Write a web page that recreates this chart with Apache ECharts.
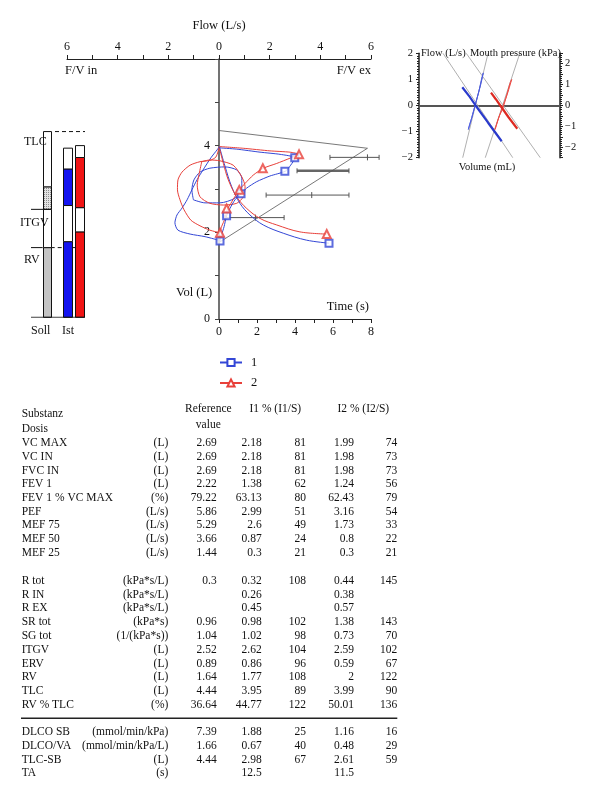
<!DOCTYPE html>
<html><head><meta charset="utf-8">
<script src="https://cdn.jsdelivr.net/npm/echarts@6/dist/echarts.min.js"></script>
<style>html,body{margin:0;padding:0;background:#fff}#c{width:600px;height:802px}</style>
</head><body><div id="c"></div>
<script>
// ================= DATA =================
// Main panel: flow (L/s) vs volume (L)
const flowTickValues = [-6, -4, -2, 0, 2, 4, 6];
const timeTickValues = [0, 2, 4, 6, 8];
const volTickValues = [0, 2, 4];

// Predicted flow-volume outline
const predFlow = [0, 5.86, 0.04];
const predVol  = [4.35, 3.94, 1.78];

// Reference ranges (PEF, MEF 75, MEF 50, MEF 25)
const refNames  = ['PEF', 'MEF 75', 'MEF 50', 'MEF 25'];
const refCenter = [5.86, null, 3.66, 1.44];
const refLow    = [4.38, 3.08, 1.86, 0.24];
const refHigh   = [6.32, 5.13, 5.13, 2.57];
const refVol    = [3.73, 3.42, 2.86, 2.34];

// Series 1 (blue)
const exp1Flow = [0.01, 0.70, 1.62, 2.41, 3.01, 2.83, 2.62, 2.01, 1.49, 1.09, 0.88, 0.63, 0.43, 0.30, 0.20, 0.10, 0.04];
const exp1Vol  = [3.95, 3.92, 3.85, 3.80, 3.72, 3.55, 3.41, 3.30, 3.17, 3.02, 2.89, 2.75, 2.55, 2.38, 2.13, 1.94, 1.80];
const mark1Flow = [2.99, 2.60, 0.87, 0.30, 0.04];
const mark1Vol  = [3.72, 3.41, 2.89, 2.38, 1.80];
const insp1Flow = [0.04, -0.55, -1.14, -1.62, -1.74, -1.66, -1.46, -1.26, -1.07, -0.87, -0.63, -0.32, -0.08, 0.01];
const insp1Vol  = [1.81, 1.90, 1.96, 2.05, 2.22, 2.40, 2.56, 2.75, 2.98, 3.21, 3.44, 3.72, 3.90, 3.97];
const tid1Flow = [-1.01, -0.55, 0.04, 0.63, 0.90, 0.90, 0.70, 0.24, -0.36, -0.75, -0.99, -1.07, -1.01];
const tid1Vol  = [2.75, 2.68, 2.68, 2.79, 3.02, 3.25, 3.44, 3.51, 3.48, 3.39, 3.21, 2.98, 2.75];
const vt1Time = [0.02, 0.32, 0.67, 1.10, 1.63, 2.33, 3.38, 4.60, 5.79];
const vt1Vol  = [3.98, 3.52, 3.05, 2.67, 2.40, 2.17, 1.98, 1.82, 1.75];

// Series 2 (red)
const exp2Flow = [0.01, 0.96, 2.01, 2.80, 3.17, 2.80, 2.28, 1.75, 1.35, 1.03, 0.80, 0.59, 0.43, 0.34, 0.24, 0.10, 0.04];
const exp2Vol  = [3.98, 3.94, 3.88, 3.85, 3.80, 3.71, 3.59, 3.48, 3.32, 3.13, 2.98, 2.79, 2.63, 2.55, 2.32, 2.13, 1.99];
const mark2Flow = [3.16, 1.73, 0.80, 0.30, 0.04];
const mark2Vol  = [3.80, 3.48, 2.98, 2.55, 1.99];
const insp2Flow = [0.04, -0.36, -0.75, -1.11, -1.38, -1.54, -1.64, -1.62, -1.46, -1.14, -0.75, -0.36, -0.12, 0.01];
const insp2Vol  = [1.99, 2.05, 2.15, 2.28, 2.52, 2.75, 2.98, 3.21, 3.39, 3.55, 3.63, 3.66, 3.74, 3.97];
const tid2Flow = [-0.68, -0.78, -0.86, -0.75, -0.36, 0.17, 0.70, 0.96, 1.03, 0.90, 0.56, 0.04, -0.36, -0.68];
const tid2Vol  = [3.63, 3.36, 3.09, 2.82, 2.67, 2.63, 2.67, 2.82, 3.05, 3.28, 3.55, 3.65, 3.67, 3.63];
const vt2Time = [0.02, 0.23, 0.49, 0.93, 1.46, 2.16, 3.04, 4.26, 5.67];
const vt2Vol  = [3.95, 3.59, 3.21, 2.82, 2.55, 2.32, 2.17, 2.01, 1.96];

// Inset: volume (mL) vs flow (L/s)
const insetRefA = [[-66, 2.0], [33, -2.0]];
const insetRefB = [[-33, 2.0], [72, -2.0]];
const insetRefC = [[-38, -2.0], [-2, 2.0]];
const insetRefD = [[-6, -2.0], [43, 2.0]];
const insetBlueThickVol = [-38.6, -28, -19.7, -2, 17.3];
const insetBlueThickFlow = [0.70, 0.33, 0.0, -0.66, -1.37];
const insetBlueThinVol = [-30, -26, -22, -17, -12, -8.8, -11, -15, -20, -25, -29, -30];
const insetBlueThinFlow = [-0.92, -0.55, -0.15, 0.35, 0.85, 1.25, 1.05, 0.55, 0.05, -0.45, -0.80, -0.92];
const insetRedThickVol = [2.1, 9, 15.3, 27, 39.4];
const insetRedThickFlow = [0.49, 0.24, 0.0, -0.45, -0.89];
const insetRedThinVol = [7.8, 12, 16, 20, 26, 31.5, 29, 24, 19, 14, 9.5, 7.8];
const insetRedThinFlow = [-0.92, -0.55, -0.25, 0.05, 0.5, 1.0, 0.85, 0.35, -0.1, -0.4, -0.78, -0.92];

// Lung volume bars (L): segment tops from bottom
const barColumns = ['Soll', 'Ist 1', 'Ist 2'];
const barSegTops = [
  [1.64, 2.54, 3.07, 4.37],
  [1.78, 2.63, 3.49, 3.98],
  [2.01, 2.58, 3.76, 4.04]
];
const levelTLC = 4.37, levelITGV = 2.54, levelRV = 1.64;

// Table
const group1Names = ['VC MAX', 'VC IN', 'FVC IN', 'FEV 1', 'FEV 1 % VC MAX', 'PEF', 'MEF 75', 'MEF 50', 'MEF 25'];
const group1Units = ['(L)', '(L)', '(L)', '(L)', '(%)', '(L/s)', '(L/s)', '(L/s)', '(L/s)'];
const group1Ref   = ['2.69', '2.69', '2.69', '2.22', '79.22', '5.86', '5.29', '3.66', '1.44'];
const group1I1    = ['2.18', '2.18', '2.18', '1.38', '63.13', '2.99', '2.6', '0.87', '0.3'];
const group1I1p   = ['81', '81', '81', '62', '80', '51', '49', '24', '21'];
const group1I2    = ['1.99', '1.98', '1.98', '1.24', '62.43', '3.16', '1.73', '0.8', '0.3'];
const group1I2p   = ['74', '73', '73', '56', '79', '54', '33', '22', '21'];

const group2Names = ['R tot', 'R IN', 'R EX', 'SR tot', 'SG tot', 'ITGV', 'ERV', 'RV', 'TLC', 'RV % TLC'];
const group2Units = ['(kPa*s/L)', '(kPa*s/L)', '(kPa*s/L)', '(kPa*s)', '(1/(kPa*s))', '(L)', '(L)', '(L)', '(L)', '(%)'];
const group2Ref   = ['0.3', '', '', '0.96', '1.04', '2.52', '0.89', '1.64', '4.44', '36.64'];
const group2I1    = ['0.32', '0.26', '0.45', '0.98', '1.02', '2.62', '0.86', '1.77', '3.95', '44.77'];
const group2I1p   = ['108', '', '', '102', '98', '104', '96', '108', '89', '122'];
const group2I2    = ['0.44', '0.38', '0.57', '1.38', '0.73', '2.59', '0.59', '2', '3.99', '50.01'];
const group2I2p   = ['145', '', '', '143', '70', '102', '67', '122', '90', '136'];

const group3Names = ['DLCO SB', 'DLCO/VA', 'TLC-SB', 'TA'];
const group3Units = ['(mmol/min/kPa)', '(mmol/min/kPa/L)', '(L)', '(s)'];
const group3Ref   = ['7.39', '1.66', '4.44', ''];
const group3I1    = ['1.88', '0.67', '2.98', '12.5'];
const group3I1p   = ['25', '40', '67', ''];
const group3I2    = ['1.16', '0.48', '2.61', '11.5'];
const group3I2p   = ['16', '29', '59', ''];

// ================= LAYOUT / STYLE =================
const FONT = "'Liberation Serif', 'DejaVu Serif', serif";
const BLUE = '#3447d6', RED = '#e8403a';
const BAR_BLUE = '#1414f0', BAR_RED = '#f01414';
const zip = (a, b) => a.map((v, i) => [v, b[i]]);
const minus = v => (v < 0 ? '\u2212' + (-v) : String(v));

const chart = echarts.init(document.getElementById('c'), null, { renderer: 'canvas' });

// stipple pattern (dotted)
const pc = document.createElement('canvas');
pc.width = 2; pc.height = 2;
const pctx = pc.getContext('2d');
pctx.fillStyle = '#e2e2e2'; pctx.fillRect(0, 0, 2, 2);
pctx.fillStyle = '#8c8c8c'; pctx.fillRect(0, 0, 1, 1);
const stipple = { image: pc, repeat: 'repeat' };

const colX = [15.7, 36.2, 48.7];
const colW = [8, 9, 9];
const colFills = [
  ['#c4c4c4', '#fff', stipple, '#fff'],
  [BAR_BLUE, '#fff', BAR_BLUE, '#fff'],
  [BAR_RED, '#fff', BAR_RED, '#fff']
];
const barRows = [];
barSegTops.forEach((tops, c) => {
  let prev = 0;
  tops.forEach((t, k) => { barRows.push([colX[c], prev, t, c, k]); prev = t; });
});

// ---- graphic texts ----
const graphics = [];
function txt(text, x, y, align, size, extra) {
  graphics.push(Object.assign({
    type: 'text', x: x, y: y, z: 100,
    style: { text: text, font: (size || 11.5) + 'px ' + FONT, fill: '#111', textAlign: align || 'left', textVerticalAlign: 'middle' }
  }, extra || {}));
}
txt('Flow (L/s)', 219, 26, 'center', 12.5);
txt('F/V in', 65, 71, 'left', 12.5);
txt('F/V ex', 371, 71, 'right', 12.5);
txt('Vol (L)', 176, 293, 'left', 12.5);
txt('Time (s)', 369, 307, 'right', 12.5);
txt('Flow (L/s)', 421, 53, 'left', 10.5);
txt('Mouth pressure (kPa)', 561, 53, 'right', 10.5);
txt('Volume (mL)', 487, 167, 'center', 10.5);
txt('TLC', 24, 142, 'left', 12);
txt('ITGV', 20, 223, 'left', 12);
txt('RV', 24, 260, 'left', 12);
txt('Soll', 31, 331, 'left', 12);
txt('Ist', 62, 331, 'left', 12);

// table
const colRight = { unit: 168.3, ref: 216.7, i1: 261.7, i1p: 306, i2: 354, i2p: 397.3 };
txt('Substanz', 21.7, 414.3);
txt('Dosis', 21.7, 429.3);
txt('Reference', 208.3, 409.3, 'center');
txt('value', 208.3, 425, 'center');
txt('I1 % (I1/S)', 275.3, 409.3, 'center');
txt('I2 % (I2/S)', 363.3, 409.3, 'center');
function group(names, units, ref, i1, i1p, i2, i2p, y0, step) {
  names.forEach((n, i) => {
    const y = y0 + i * step;
    txt(n, 21.7, y);
    txt(units[i], colRight.unit, y, 'right');
    if (ref[i]) txt(ref[i], colRight.ref, y, 'right');
    if (i1[i]) txt(i1[i], colRight.i1, y, 'right');
    if (i1p[i]) txt(i1p[i], colRight.i1p, y, 'right');
    if (i2[i]) txt(i2[i], colRight.i2, y, 'right');
    if (i2p[i]) txt(i2p[i], colRight.i2p, y, 'right');
  });
}
group(group1Names, group1Units, group1Ref, group1I1, group1I1p, group1I2, group1I2p, 443.3, 13.67);
group(group2Names, group2Units, group2Ref, group2I1, group2I1p, group2I2, group2I2p, 580.7, 13.81);
group(group3Names, group3Units, group3Ref, group3I1, group3I1p, group3I2, group3I2p, 732.3, 13.67);
graphics.push({ type: 'line', z: 100, shape: { x1: 21, y1: 718.3, x2: 397.3, y2: 718.3 }, style: { stroke: '#222', lineWidth: 1.5 } });

const axisTxt = { fontFamily: FONT, fontSize: 12, color: '#111' };
const lineSer = (name, xi, yi, xs, ys, color, width, extra) => Object.assign({
  name: name, type: 'line', xAxisIndex: xi, yAxisIndex: yi, data: zip(xs, ys),
  showSymbol: false, symbol: 'none', smooth: 0.25, silent: true,
  lineStyle: { color: color, width: width || 1 }, itemStyle: { color: color }, z: 3
}, extra || {});

const option = {
  animation: false,
  backgroundColor: '#fff',
  graphic: graphics,
  legend: {
    data: ['1', '2'], orient: 'vertical', left: 219, top: 356,
    itemWidth: 22, itemHeight: 9, itemGap: 7.5, padding: 0,
    textStyle: { fontFamily: FONT, fontSize: 12.5, color: '#111', padding: [0, 0, 0, 4] }
  },
  grid: [
    { left: 67, top: 59, width: 304, height: 260 },   // flow-volume
    { left: 219, top: 59, width: 152, height: 260 },  // volume-time
    { left: 419, top: 53.3, width: 141, height: 104.4 }, // inset
    { left: 31, top: 126.05, width: 54, height: 191.25 } // bars
  ],
  xAxis: [
    { gridIndex: 0, type: 'value', position: 'top', min: -6, max: 6, interval: 1,
      axisLine: { onZero: false, lineStyle: { color: '#222', width: 1 } },
      axisTick: { length: 4, lineStyle: { color: '#222' } },
      axisLabel: { ...axisTxt, margin: 6, formatter: v => flowTickValues.includes(v) ? String(Math.abs(v)) : '' },
      splitLine: { show: false } },
    { gridIndex: 1, type: 'value', position: 'bottom', min: 0, max: 8, interval: 1,
      axisLine: { onZero: false, lineStyle: { color: '#222', width: 1 } },
      axisTick: { length: 4, lineStyle: { color: '#222' } },
      axisLabel: { ...axisTxt, margin: 7, formatter: v => timeTickValues.includes(v) ? String(v) : '' },
      splitLine: { show: false } },
    { gridIndex: 2, type: 'value', min: -100, max: 100, show: true,
      axisLine: { onZero: true, lineStyle: { color: '#555', width: 2 } },
      axisTick: { show: false }, axisLabel: { show: false }, splitLine: { show: false } },
    { gridIndex: 3, type: 'value', min: 0, max: 54, show: false }
  ],
  yAxis: [
    { gridIndex: 0, type: 'value', min: 0, max: 6, show: false },
    { gridIndex: 1, type: 'value', min: 0, max: 6, interval: 1, position: 'left',
      axisLine: { show: true, onZero: false, lineStyle: { color: '#444', width: 1.5 } },
      axisTick: { show: true, length: 4, lineStyle: { color: '#444' } },
      axisLabel: { ...axisTxt, margin: 9, formatter: v => volTickValues.includes(v) ? String(v) : '' },
      splitLine: { show: false } },
    { gridIndex: 2, type: 'value', min: -2, max: 2, interval: 1, position: 'left',
      axisLine: { onZero: false, lineStyle: { color: '#222', width: 1.5 } },
      axisTick: { length: 3, lineStyle: { color: '#222' } },
      minorTick: { show: true, splitNumber: 10, length: 2, lineStyle: { color: '#222' } },
      axisLabel: { fontFamily: FONT, fontSize: 10.5, color: '#111', margin: 6, formatter: minus },
      splitLine: { show: false }, minorSplitLine: { show: false } },
    { gridIndex: 2, type: 'value', min: -2.5, max: 2.5, interval: 0.5, position: 'right',
      axisLine: { onZero: false, lineStyle: { color: '#222', width: 1.5 } },
      axisTick: { length: 3, lineStyle: { color: '#222' } },
      minorTick: { show: true, splitNumber: 5, length: 2, lineStyle: { color: '#222' } },
      axisLabel: { fontFamily: FONT, fontSize: 10.5, color: '#111', margin: 5, formatter: v => Number.isInteger(v) ? minus(v) : '' },
      splitLine: { show: false }, minorSplitLine: { show: false } },
    { gridIndex: 3, type: 'value', min: 0, max: 4.5, show: false }
  ],
  series: [
    // legend carriers: expiratory flow-volume curves
    { name: '1', type: 'line', xAxisIndex: 0, yAxisIndex: 0, symbol: 'emptyRect', symbolSize: 7, smooth: 0.2,
      data: zip(exp1Flow, exp1Vol).map(p => ({ value: p, symbol: 'none' })),
      lineStyle: { color: BLUE, width: 1 }, itemStyle: { color: BLUE, borderWidth: 1 }, z: 4 },
    { name: '2', type: 'line', xAxisIndex: 0, yAxisIndex: 0, symbol: 'emptyTriangle', symbolSize: 8, smooth: 0.2,
      data: zip(exp2Flow, exp2Vol).map(p => ({ value: p, symbol: 'none' })),
      lineStyle: { color: RED, width: 1 }, itemStyle: { color: RED, borderWidth: 1 }, z: 4 },
    // predicted outline
    lineSer('pred', 0, 0, predFlow, predVol, '#555', 0.8, { smooth: false, z: 2 }),
    // reference ranges
    { type: 'custom', xAxisIndex: 0, yAxisIndex: 0, z: 2, silent: true,
      data: refNames.map((n, i) => [refLow[i], refHigh[i], refVol[i]]),
      encode: { x: [0, 1], y: 2 },
      renderItem: (params, api) => {
        const v = api.value(2);
        const a = api.coord([api.value(0), v]), b = api.coord([api.value(1), v]);
        const thick = params.dataIndex === 1;
        const st = { stroke: '#555', lineWidth: 1 };
        const ch = [
          { type: 'line', shape: { x1: a[0], y1: a[1], x2: b[0], y2: b[1] }, style: { stroke: thick ? '#666' : '#555', lineWidth: thick ? 2.4 : 1 } },
          { type: 'line', shape: { x1: a[0], y1: a[1] - 2.5, x2: a[0], y2: a[1] + 2.5 }, style: st },
          { type: 'line', shape: { x1: b[0], y1: b[1] - 2.5, x2: b[0], y2: b[1] + 2.5 }, style: st }
        ];
        const cv = refCenter[params.dataIndex];
        if (cv !== null) {
          const c = api.coord([cv, v]);
          ch.push({ type: 'line', shape: { x1: c[0], y1: c[1] - 3, x2: c[0], y2: c[1] + 3 }, style: st });
        }
        return { type: 'group', children: ch };
      } },
    // inspiratory + tidal loops
    lineSer('1', 0, 0, insp1Flow, insp1Vol, BLUE, 1),
    lineSer('1', 0, 0, tid1Flow, tid1Vol, BLUE, 1),
    lineSer('2', 0, 0, insp2Flow, insp2Vol, RED, 1),
    lineSer('2', 0, 0, tid2Flow, tid2Vol, RED, 1),
    // volume-time curves
    lineSer('1', 1, 1, vt1Time, vt1Vol, BLUE, 1, { smooth: 0.35 }),
    lineSer('2', 1, 1, vt2Time, vt2Vol, RED, 1, { smooth: 0.35 }),
    // markers
    { name: '1', type: 'scatter', xAxisIndex: 0, yAxisIndex: 0, symbol: 'emptyRect', symbolSize: 7, z: 5, silent: true,
      data: zip(mark1Flow, mark1Vol), itemStyle: { color: BLUE, borderWidth: 1 } },
    { name: '2', type: 'scatter', xAxisIndex: 0, yAxisIndex: 0, symbol: 'emptyTriangle', symbolSize: 8, z: 5, silent: true,
      data: zip(mark2Flow, mark2Vol), itemStyle: { color: RED, borderWidth: 1 } },
    { name: '1', type: 'scatter', xAxisIndex: 1, yAxisIndex: 1, symbol: 'emptyRect', symbolSize: 7, z: 5, silent: true,
      data: [[vt1Time[vt1Time.length - 1], vt1Vol[vt1Vol.length - 1]]], itemStyle: { color: BLUE, borderWidth: 1 } },
    { name: '2', type: 'scatter', xAxisIndex: 1, yAxisIndex: 1, symbol: 'emptyTriangle', symbolSize: 8, z: 5, silent: true,
      data: [[vt2Time[vt2Time.length - 1], vt2Vol[vt2Vol.length - 1]]], itemStyle: { color: RED, borderWidth: 1 } },
    // inset
    ...[insetRefA, insetRefB, insetRefC, insetRefD].map(d => ({
      type: 'line', xAxisIndex: 2, yAxisIndex: 2, data: d, symbol: 'none', silent: true,
      lineStyle: { color: '#b0b0b0', width: 1 }, z: 2 })),
    lineSer('ib', 2, 2, insetBlueThinVol, insetBlueThinFlow, '#4a5ae0', 1, { smooth: 0.2 }),
    lineSer('ib2', 2, 2, insetBlueThickVol, insetBlueThickFlow, '#2a3acc', 2.2, { smooth: false }),
    lineSer('ir', 2, 2, insetRedThinVol, insetRedThinFlow, '#ee4a44', 1, { smooth: 0.2 }),
    lineSer('ir2', 2, 2, insetRedThickVol, insetRedThickFlow, '#dd2a22', 2.2, { smooth: false }),
    // bars
    { type: 'custom', xAxisIndex: 3, yAxisIndex: 4, z: 3, silent: true,
      data: barRows, encode: { x: 0, y: [1, 2] },
      renderItem: (params, api) => {
        const x = api.value(0), lo = api.value(1), hi = api.value(2);
        const c = api.value(3), k = api.value(4);
        const p0 = api.coord([x, lo]), p1 = api.coord([x, hi]);
        const w = colW[c];
        return { type: 'rect', shape: { x: Math.round(p0[0] - w / 2) + 0.5, y: p1[1], width: w, height: p0[1] - p1[1] },
          style: { fill: colFills[c][k], stroke: '#111', lineWidth: 1 } };
      } },
    // bar panel reference lines
    { type: 'line', xAxisIndex: 3, yAxisIndex: 4, symbol: 'none', silent: true, z: 4,
      data: [[0, 0], [54, 0]], lineStyle: { color: '#111', width: 1 } },
    { type: 'line', xAxisIndex: 3, yAxisIndex: 4, symbol: 'none', silent: true, z: 4,
      data: [[0, levelITGV], [19.7, levelITGV]], lineStyle: { color: '#111', width: 1 } },
    { type: 'line', xAxisIndex: 3, yAxisIndex: 4, symbol: 'none', silent: true, z: 4,
      data: [[0, levelRV], [11.7, levelRV]], lineStyle: { color: '#111', width: 1 } },
    { type: 'line', xAxisIndex: 3, yAxisIndex: 4, symbol: 'none', silent: true, z: 2,
      data: [[19.7, levelRV], [44, levelRV]], lineStyle: { color: '#111', width: 1, type: [4, 3] } },
    { type: 'line', xAxisIndex: 3, yAxisIndex: 4, symbol: 'none', silent: true, z: 2,
      data: [[24, levelTLC], [54, levelTLC]], lineStyle: { color: '#111', width: 1, type: [4, 3] } }
  ]
};
chart.setOption(option);
</script>
</body></html>
